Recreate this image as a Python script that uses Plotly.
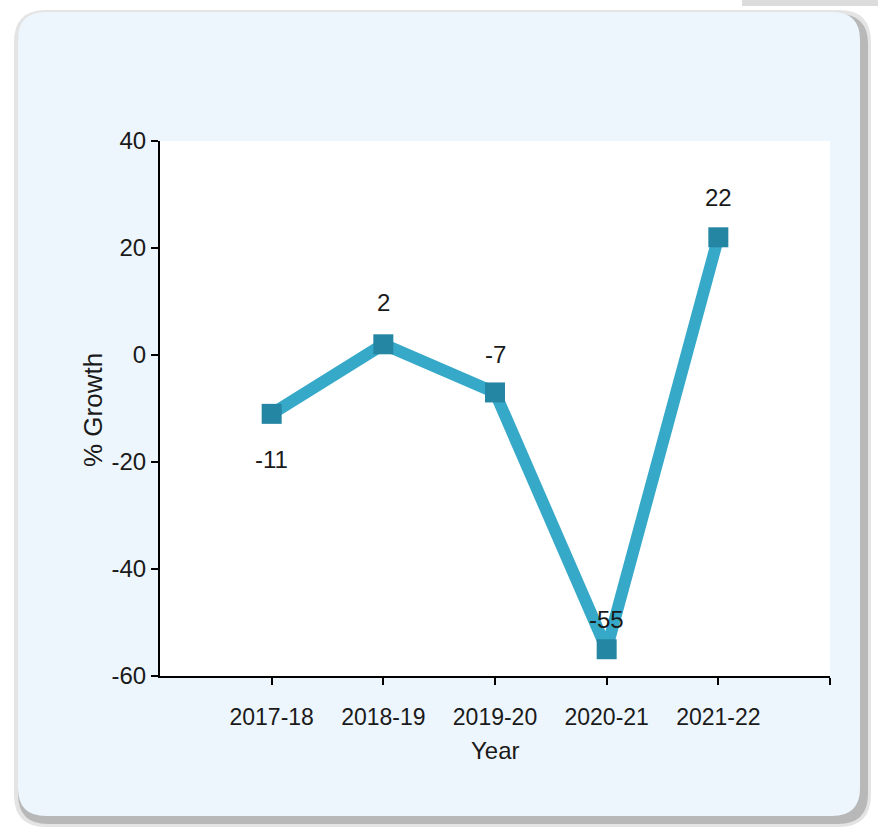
import plotly.graph_objects as go

years = ["2017-18", "2018-19", "2019-20", "2020-21", "2021-22"]
growth = [-11, 2, -7, -55, 22]
y_ticks = [-60, -40, -20, 0, 20, 40]
y_tick_labels = ["-60", "-40", "-20", "0", "20", "40"]
label_shift = [-46, 42, 38, 30, 40]

W, H = 878, 835
L, R, T, B = 160, 830, 141, 676
FONT = "Liberation Sans, Arial"
TXT = "#1a1a1a"


def px2paper(x, y):
    return (x - L) / (R - L), (B - y) / (B - T)


def rounded(x0, y0, x1, y1, r):
    def p(x, y):
        a, b = px2paper(x, y)
        return f"{a:.5f},{b:.5f}"
    return (f"M {p(x0 + r, y0)} L {p(x1 - r, y0)} Q {p(x1, y0)} {p(x1, y0 + r)} "
            f"L {p(x1, y1 - r)} Q {p(x1, y1)} {p(x1 - r, y1)} "
            f"L {p(x0 + r, y1)} Q {p(x0, y1)} {p(x0, y1 - r)} "
            f"L {p(x0, y0 + r)} Q {p(x0, y0)} {p(x0 + r, y0)} Z")


xs = list(range(len(years)))

fig = go.Figure()
fig.add_trace(go.Scatter(
    x=xs, y=growth, mode="lines+markers",
    line=dict(color="#36a9c9", width=12),
    marker=dict(symbol="square", size=20, color="#2486a2"),
    hoverinfo="skip", showlegend=False,
))

shapes = [
    dict(type="path", xref="paper", yref="paper", layer="below",
         path=rounded(14, 10, 871, 827, 32), fillcolor="#e4e4e4", line=dict(width=0)),
    dict(type="path", xref="paper", yref="paper", layer="below",
         path=rounded(18, 14, 868, 824, 30), fillcolor="#b8b8b8", line=dict(width=0)),
    dict(type="path", xref="paper", yref="paper", layer="below",
         path=rounded(18, 12, 860, 816, 28), fillcolor="#eef6fd", line=dict(width=0)),
    dict(type="rect", xref="paper", yref="paper", layer="below",
         x0=0, x1=1, y0=0, y1=1, fillcolor="white", line=dict(width=0)),
]
a0, b0 = px2paper(742, 0)
a1, b1 = px2paper(878, 6)
shapes.append(dict(type="rect", xref="paper", yref="paper", layer="below",
                   x0=a0, x1=a1, y0=b1, y1=b0, fillcolor="#dcdcdc", line=dict(width=0)))

annotations = []
for x, v, s in zip(xs, growth, label_shift):
    annotations.append(dict(x=x, y=v, xref="x", yref="y", text=str(v), showarrow=False,
                            yshift=s, font=dict(family=FONT, size=24, color=TXT)))

ax_t, _ = px2paper(76, 0)
_, ay_t = px2paper(0, 410)
annotations.append(dict(x=ax_t, y=ay_t, xref="paper", yref="paper", text="% Growth",
                        textangle=-90, showarrow=False,
                        font=dict(family=FONT, size=26, color=TXT)))
bx, _ = px2paper(495, 0)
_, by = px2paper(0, 766)
annotations.append(dict(x=bx, y=by, xref="paper", yref="paper", text="Year",
                        showarrow=False,
                        font=dict(family=FONT, size=24, color=TXT)))

fig.update_layout(
    width=W, height=H,
    margin=dict(l=L, r=W - R, t=T, b=H - B, pad=0),
    paper_bgcolor="white", plot_bgcolor="rgba(0,0,0,0)",
    shapes=shapes, annotations=annotations,
    xaxis=dict(range=[-1, 5], tickmode="array", tickvals=list(range(len(years) + 1)),
               ticktext=years + [""], showgrid=False, zeroline=False,
               showline=True, linecolor="black", linewidth=2,
               ticks="outside", ticklen=7, tickwidth=1.5, tickcolor="black",
               ticklabelstandoff=12,
               tickfont=dict(family=FONT, size=23, color=TXT)),
    yaxis=dict(range=[-60, 40], tickmode="array", tickvals=y_ticks,
               ticktext=y_tick_labels,
               showgrid=False, zeroline=False,
               showline=True, linecolor="black", linewidth=2,
               ticks="outside", ticklen=7, tickwidth=1.5, tickcolor="black",
               tickfont=dict(family=FONT, size=24, color=TXT)),
)

fig.write_html("out.html")
